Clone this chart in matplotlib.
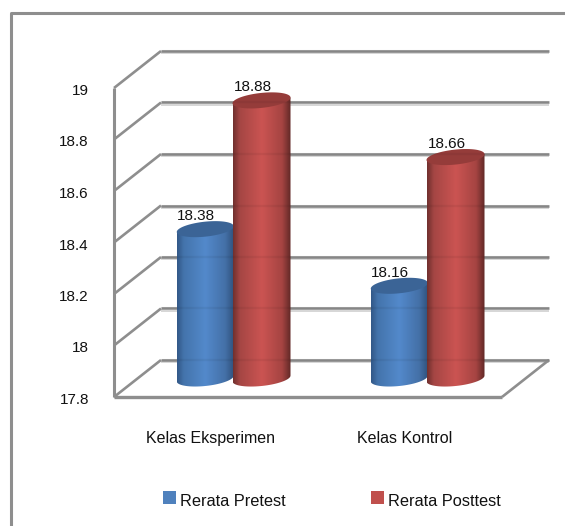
import numpy as np
import matplotlib
matplotlib.use("Agg")
import matplotlib.pyplot as plt
from matplotlib.patches import PathPatch
from matplotlib.path import Path
from matplotlib.transforms import Affine2D

categories = ["Kelas Eksperimen", "Kelas Kontrol"]
series_names = ["Rerata Pretest", "Rerata Posttest"]
pretest = [18.38, 18.16]
posttest = [18.88, 18.66]
value_labels_pre = ["18.38", "18.16"]
value_labels_post = ["18.88", "18.66"]
y_ticks = [17.8, 18, 18.2, 18.4, 18.6, 18.8, 19]
y_tick_labels = ["17.8", "18", "18.2", "18.4", "18.6", "18.8", "19"]

W, H = 565, 526
DEPTH_X, DEPTH_Y = 47, 37
BAR_PX = 57
RY = 7.5
TILT = 0.1
GRID = "#8e8e8e"
SHADE = "#cfcfcf"
FS = 11

plt.rcParams["font.family"] = ["Liberation Sans", "DejaVu Sans"]

fig = plt.figure(figsize=(W / 100, H / 100), dpi=100)
# front plane of the box, everything else is shifted from it
ax = fig.add_axes([114 / W, 1 - 397 / H, 388 / W, 309 / H])
ax.axis("off")

px_x = 388 / 2
px_y = 309 / 1.2


def depth_line(x0, y0, x1, y1, frac0, frac1, color=GRID, lw=1.9, z=1, alpha=1.0, drop=0):
    # line from a point at depth frac0 to a point at depth frac1
    xa = x0 + DEPTH_X * frac0 / px_x
    ya = y0 + (DEPTH_Y * frac0 - drop) / px_y
    xb = x1 + DEPTH_X * frac1 / px_x
    yb = y1 + (DEPTH_Y * frac1 - drop) / px_y
    ax.plot([xa, xb], [ya, yb], color=color, lw=lw, clip_on=False, zorder=z, alpha=alpha,
            solid_capstyle="butt")


# wall, side and floor lines
for t in y_ticks:
    depth_line(0, t, 2, t, 1, 1, color=SHADE, lw=1.2, z=1, drop=2.4)
    depth_line(0, t, 2, t, 1, 1, z=2)
    depth_line(0, t, 0, t, 0, 1, lw=1.9, z=2)
    # the bars are very slightly see-through, so the wall lines still show faintly
    depth_line(0, t, 2, t, 1, 1, color="black", lw=1.7, z=3.5, alpha=0.05)
depth_line(0, y_ticks[0], 0, y_ticks[-1], 0, 0, lw=2.2, z=2)
depth_line(0, y_ticks[0], 2, y_ticks[0], 0, 0, lw=2.4, z=2)
depth_line(2, y_ticks[0], 2, y_ticks[0], 0, 1, lw=1.9, z=2)


def cylinder(xc, value, width_px, cmap_colors, top_color, z):
    half = width_px / 2 / px_x
    ry = RY / px_y
    tilt = TILT * width_px / 2 / px_y
    trans = ax.transData + Affine2D().translate(DEPTH_X / 2, DEPTH_Y / 2)
    base = y_ticks[0]
    t = np.linspace(np.pi, 2 * np.pi, 40)
    lower = np.column_stack([xc + half * np.cos(t), base + ry * np.sin(t) + tilt * np.cos(t)])
    outline = np.vstack([lower, [[xc + half, value + tilt]], [[xc - half, value - tilt]], lower[:1]])
    stops = np.array(cmap_colors) / 255.0
    pos = np.linspace(0, 1, 200)
    grad = np.zeros((1, 200, 3))
    for c in range(3):
        grad[0, :, c] = np.interp(pos, [0, 0.12, 0.5, 0.85, 1], stops[:, c])
    im = ax.imshow(grad, extent=(xc - half, xc + half, base - ry * 1.5, value + ry), aspect="auto",
                   transform=trans, zorder=z, interpolation="bilinear")
    im.set_clip_path(PathPatch(Path(outline), transform=trans))
    t = np.linspace(0, 2 * np.pi, 80)
    top = np.column_stack([xc + half * np.cos(t), value + ry * np.sin(t) + tilt * np.cos(t)])
    ax.add_patch(PathPatch(Path(top), facecolor=top_color, edgecolor="none", transform=trans,
                           zorder=z + 0.1, clip_on=False))


blue = [(50, 88, 135), (68, 116, 172), (83, 137, 203), (68, 112, 167), (48, 82, 125)]
red = [(112, 48, 46), (165, 70, 68), (203, 84, 82), (165, 68, 66), (96, 40, 38)]
bar_w = BAR_PX / px_x
nudge = 1.5 / px_x
for i in range(len(categories)):
    c = i + 0.5
    xb = c - bar_w / 2 - nudge / 2
    xr = c + bar_w / 2 - nudge
    # the red cylinder overlaps the blue one a little
    cylinder(xb, pretest[i], BAR_PX, blue, "#3b6496", 3)
    cylinder(xr, posttest[i], BAR_PX + 1, red, "#953c3a", 3.2)
    for xc, val, lab in [(xb, pretest[i], value_labels_pre[i]), (xr, posttest[i], value_labels_post[i])]:
        ax.annotate(lab, (xc, val), xytext=(DEPTH_X * 0.5 - 9, DEPTH_Y * 0.5 + 6),
                    textcoords="offset pixels", ha="center", va="bottom", fontsize=FS,
                    color="#111111", zorder=5)
    ax.annotate(categories[i], (c, 17.8), xytext=(0, -42), textcoords="offset pixels",
                ha="center", va="center", fontsize=FS + 0.5, color="#111111")

for t, lab in zip(y_ticks, y_tick_labels):
    ax.annotate(lab, (0, t), xytext=(-25, -3), textcoords="offset pixels", ha="right", va="center",
                fontsize=FS, color="#111111")

ax.set_xlim(0, 2)
ax.set_ylim(17.8, 19)

# legend swatches and outer frame sit in figure pixels
for x0, col, name in [(163, "#4f81bd", series_names[0]), (371, "#c0504d", series_names[1])]:
    fig.patches.append(plt.Rectangle((x0 / W, 1 - 504 / H), 13 / W, 13 / H, transform=fig.transFigure,
                                     facecolor=col, edgecolor="none"))
    fig.text((x0 + 17) / W, 1 - 501 / H, name, ha="left", va="center", fontsize=FS + 0.8, color="#111111")

fig.add_artist(plt.Line2D([11.2 / W, 11.2 / W, 1], [0, 1 - 13 / H, 1 - 13 / H], color=GRID, lw=2.2,
                          transform=fig.transFigure))

fig.savefig("out.png", dpi=100)
